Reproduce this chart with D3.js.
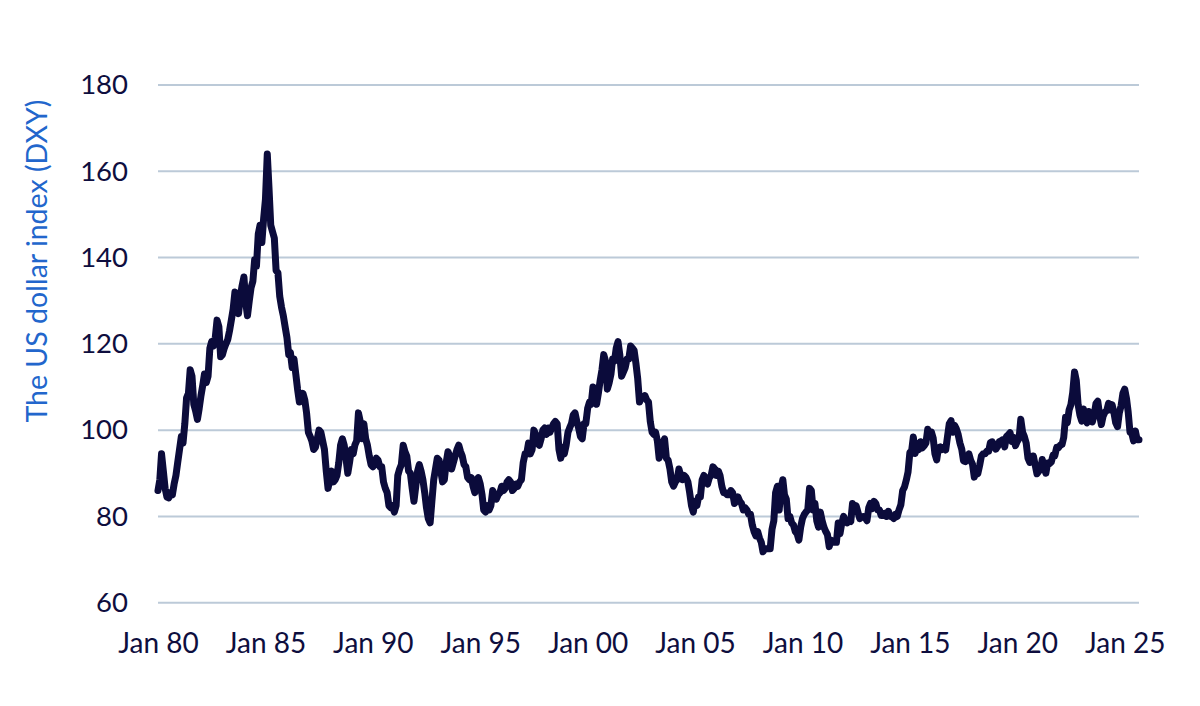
<!DOCTYPE html>
<html>
<head>
<meta charset="utf-8">
<script src="https://cdn.jsdelivr.net/npm/d3@7"></script>
<style>
  html, body { margin: 0; padding: 0; background: #ffffff; }
  svg { display: block; }
  text { font-family: Lato, "Open Sans", sans-serif; }
</style>
</head>
<body>
<div id="chart"></div>
<script>
// Month-end DXY readings, Jan 1980 onwards (one row per year)
const dxyMonthly = [
  86.0, 88.5, 94.5, 90.5, 86.5, 84.5, 84.3, 85.5, 85.0, 87.5, 89.5, 92.5,        // 1980
  95.5, 98.5, 97.0, 101.5, 107.5, 108.5, 114.0, 112.5, 106.0, 104.5, 102.5, 105.0, // 1981
  108.0, 110.5, 113.0, 111.0, 112.5, 119.0, 120.5, 119.5, 121.5, 125.5, 124.0, 117.0, // 1982
  117.5, 119.0, 120.0, 121.0, 123.0, 125.5, 128.0, 132.0, 129.0, 127.0, 131.0, 133.5, // 1983
  135.5, 129.5, 126.5, 130.0, 133.0, 134.5, 139.5, 138.0, 145.5, 147.5, 143.5, 149.0, // 1984
  153.5, 164.0, 156.5, 147.5, 146.0, 144.5, 137.0, 136.5, 131.0, 128.5, 126.5, 124.0, // 1985
  121.5, 117.5, 118.0, 114.5, 116.5, 113.0, 109.5, 106.5, 107.5, 108.5, 107.0, 104.0, // 1986
  99.5, 98.5, 97.5, 95.5, 96.0, 98.0, 100.0, 99.5, 97.5, 95.5, 90.5, 86.5,         // 1987
  88.5, 90.5, 88.0, 88.5, 89.5, 92.5, 96.5, 98.0, 96.5, 93.5, 90.0, 92.5,          // 1988
  95.5, 94.5, 96.5, 97.5, 104.0, 102.0, 98.0, 101.5, 98.0, 96.5, 94.0, 92.0,       // 1989
  91.5, 92.0, 93.5, 93.0, 91.5, 91.5, 88.0, 86.5, 85.5, 82.5, 82.0, 82.5,          // 1990
  81.0, 82.5, 89.5, 91.0, 92.0, 96.5, 95.0, 94.0, 90.5, 90.0, 86.5, 83.5,          // 1991
  87.0, 90.5, 92.0, 90.5, 88.5, 85.5, 82.0, 79.5, 78.5, 83.5, 88.5, 91.0,          // 1992
  93.5, 93.0, 90.5, 88.0, 88.5, 92.5, 95.0, 94.0, 91.0, 92.5, 94.0, 95.5,          // 1993
  96.5, 95.0, 94.0, 92.0, 91.5, 89.0, 88.5, 89.0, 87.0, 85.5, 88.5, 89.0,          // 1994
  87.5, 85.0, 81.5, 81.0, 82.5, 81.5, 82.5, 86.0, 85.0, 84.0, 85.0, 85.5,          // 1995
  87.0, 86.0, 86.5, 88.0, 88.5, 88.0, 86.0, 86.5, 87.5, 87.0, 88.0, 88.5,          // 1996
  92.5, 94.5, 94.5, 97.0, 94.5, 95.5, 100.0, 99.0, 97.0, 96.5, 98.0, 100.0,        // 1997
  100.5, 99.0, 100.5, 99.5, 100.5, 101.5, 102.0, 101.5, 95.5, 93.5, 96.0, 94.5,    // 1998
  96.5, 99.5, 100.5, 101.5, 103.5, 104.0, 102.0, 100.5, 98.5, 98.0, 101.5, 101.5,  // 1999
  105.0, 106.5, 106.0, 110.0, 108.0, 106.0, 108.5, 111.5, 114.0, 117.5, 116.0, 109.5, // 2000
  111.0, 113.0, 116.5, 116.0, 119.0, 120.5, 117.5, 112.5, 113.5, 114.5, 116.5, 116.5, // 2001
  119.5, 119.0, 118.5, 115.5, 112.0, 106.5, 107.5, 107.5, 108.0, 107.0, 106.5, 102.0, // 2002
  99.5, 99.0, 99.5, 97.5, 93.5, 95.0, 97.0, 98.0, 93.5, 93.0, 91.0, 88.0,          // 2003
  87.0, 88.0, 88.5, 91.0, 89.5, 88.5, 89.5, 89.0, 88.0, 85.5, 82.5, 81.0,          // 2004
  83.5, 82.5, 84.5, 84.5, 88.5, 89.5, 88.0, 87.5, 89.0, 89.5, 91.5, 91.0,          // 2005
  89.5, 90.5, 89.5, 87.0, 85.5, 85.5, 85.0, 85.0, 86.0, 85.5, 83.0, 83.5,          // 2006
  84.5, 83.5, 83.0, 81.5, 82.0, 81.5, 80.5, 80.5, 78.0, 76.5, 75.5, 76.5,          // 2007
  75.0, 74.0, 71.8, 72.5, 72.5, 72.5, 72.5, 77.0, 79.0, 85.5, 87.0, 81.5,          // 2008
  86.5, 88.5, 85.0, 84.0, 79.5, 80.0, 78.5, 78.0, 76.5, 76.0, 74.5, 77.5,          // 2009
  79.5, 80.5, 81.0, 81.5, 86.5, 86.0, 81.5, 83.0, 79.0, 77.5, 81.0, 79.0,          // 2010
  77.5, 76.5, 75.8, 73.0, 74.5, 74.2, 74.0, 74.0, 78.5, 76.0, 78.5, 80.0,          // 2011
  79.0, 78.5, 79.0, 78.8, 83.0, 81.5, 82.5, 81.0, 79.5, 79.8, 80.0, 79.8,          // 2012
  79.0, 82.0, 83.0, 81.8, 83.5, 83.0, 81.5, 81.5, 80.2, 80.2, 80.7, 80.0,          // 2013
  81.2, 80.0, 80.0, 79.5, 80.5, 80.0, 81.5, 82.7, 86.0, 86.8, 88.4, 90.3,          // 2014
  94.8, 95.3, 98.4, 94.6, 96.9, 95.5, 97.3, 95.9, 96.4, 97.0, 100.2, 98.6,         // 2015
  99.6, 98.2, 94.6, 93.1, 95.9, 96.1, 95.5, 96.0, 95.4, 98.4, 101.5, 102.2,        // 2016
  99.5, 101.1, 100.3, 99.0, 97.0, 95.6, 92.9, 92.7, 93.1, 94.5, 93.0, 92.1,        // 2017
  89.1, 90.6, 89.9, 91.8, 94.0, 94.5, 94.5, 95.1, 95.1, 97.1, 97.3, 96.2,          // 2018
  95.6, 96.2, 97.3, 97.5, 97.8, 96.1, 98.5, 98.9, 99.4, 97.4, 98.3, 96.4,          // 2019
  97.4, 98.1, 102.5, 99.5, 98.5, 97.0, 93.5, 92.5, 93.9, 94.0, 91.9, 89.9,         // 2020
  90.5, 90.9, 93.2, 91.3, 90.0, 92.4, 92.2, 92.6, 94.2, 94.1, 96.0, 95.9,          // 2021
  96.5, 96.7, 98.3, 103.0, 101.7, 104.7, 105.9, 108.7, 113.5, 111.5, 105.9, 103.5, // 2022
  102.1, 104.9, 102.5, 101.7, 104.3, 102.9, 101.9, 103.6, 106.2, 106.7, 103.5, 101.3, // 2023
  103.3, 104.2, 104.5, 106.2, 104.7, 105.9, 104.1, 101.7, 100.8, 104.0, 105.7, 108.5, // 2024
  109.5, 107.3, 104.2, 99.5, 99.3, 97.5, 99.8, 97.8, 97.8                           // 2025
];

const startYear = 1980;
const yTicks = [60, 80, 100, 120, 140, 160, 180];
const xTickYears = [1980, 1985, 1990, 1995, 2000, 2005, 2010, 2015, 2020, 2025];
const yAxisTitle = "The US dollar index (DXY)";

const width = 1200;
const height = 706;

// plot area
const margin = { top: 85, right: 61, bottom: 103.3, left: 158 };

const series = dxyMonthly.map((v, i) => ({
  date: new Date(startYear, i, 1),
  value: v
}));

const svg = d3.select("#chart")
  .append("svg")
  .attr("width", width)
  .attr("height", height);

const x = d3.scaleTime()
  .domain(d3.extent(series, d => d.date))
  .range([margin.left, width - margin.right]);

const y = d3.scaleLinear()
  .domain([60, 180])
  .range([height - margin.bottom, margin.top]);

// horizontal grid lines
svg.append("g")
  .attr("class", "grid")
  .selectAll("line")
  .data(yTicks)
  .enter()
  .append("line")
  .attr("x1", margin.left)
  .attr("x2", width - margin.right)
  .attr("y1", d => y(d))
  .attr("y2", d => y(d))
  .attr("stroke", "#bccad8")
  .attr("stroke-width", 2);

// y tick labels
const yAxis = svg.append("g")
  .attr("transform", `translate(${margin.left - 30},0)`)
  .call(d3.axisLeft(y).tickValues(yTicks).tickSize(0).tickPadding(0));
yAxis.select(".domain").remove();
yAxis.selectAll("text")
  .attr("fill", "#0e0e3e")
  .style("font-size", "27.5px")
  .style("font-family", "Lato, 'Open Sans', sans-serif");

// x tick labels
const xAxis = svg.append("g")
  .attr("transform", `translate(0,${height - margin.bottom + 30})`)
  .call(d3.axisBottom(x)
    .tickValues(xTickYears.map(yr => new Date(yr, 0, 1)))
    .tickFormat(d3.timeFormat("Jan %y"))
    .tickSize(0)
    .tickPadding(0));
xAxis.select(".domain").remove();
xAxis.selectAll("text")
  .attr("fill", "#0e0e3e")
  .style("font-size", "28px")
  .style("font-family", "Lato, 'Open Sans', sans-serif");

// axis title
svg.append("text")
  .attr("transform", `translate(47,261) rotate(-90)`)
  .attr("text-anchor", "middle")
  .attr("fill", "#2266cc")
  .style("font-size", "28.5px")
  .text(yAxisTitle);

// the DXY line
const line = d3.line()
  .x(d => x(d.date))
  .y(d => y(d.value));

svg.append("path")
  .datum(series)
  .attr("d", line)
  .attr("fill", "none")
  .attr("stroke", "#0b0b3b")
  .attr("stroke-width", 7)
  .attr("stroke-linejoin", "round")
  .attr("stroke-linecap", "round");
</script>
</body>
</html>
